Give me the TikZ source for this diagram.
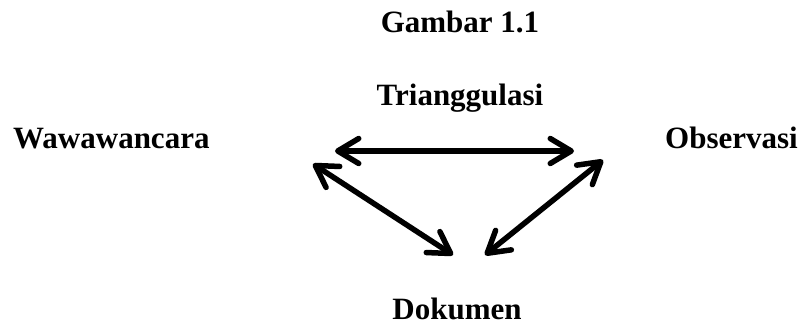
\documentclass[tikz,border=0pt]{standalone}
\usepackage{fontspec}
\setmainfont{Liberation Serif}
\usetikzlibrary{arrows.meta}
\begin{document}
\begin{tikzpicture}[x=1pt,y=-1pt,
  lbl/.style={font=\fontsize{31}{31}\selectfont\bfseries, inner sep=0pt, anchor=base},
  tipstyle/.style={},
  dbl/.style={line width=5.5pt, line cap=round,
    {Straight Barb[length=21pt,width=25pt,line cap=round,line join=round]}-{Straight Barb[length=21pt,width=25pt,line cap=round,line join=round]}}]
\useasboundingbox (0,0) rectangle (804,328);
\node[lbl] (gambar) at (460,33) {Gambar 1.1};
\node[lbl] (tri) at (460,106) {Trianggulasi};
\node[lbl, anchor=base west] (waw) at (13,149) {Wawawancara};
\node[lbl, anchor=base west] (obs) at (665,149) {Observasi};
\node[lbl] (dok) at (457,320) {Dokumen};
\coordinate (hL) at (335,151);
\coordinate (hR) at (574,151);
\coordinate (lT) at (313,164);
\coordinate (lB) at (453,255);
\coordinate (rT) at (603,160);
\coordinate (rB) at (485,255);
\draw[dbl] (hL) -- (hR);
\draw[dbl] (lT) -- (lB);
\draw[dbl] (rT) -- (rB);
\end{tikzpicture}
\end{document}
